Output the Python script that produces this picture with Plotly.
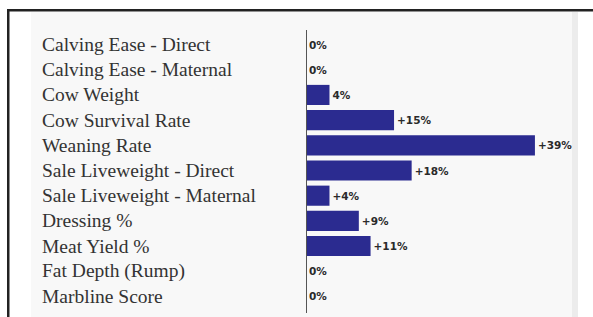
import plotly.graph_objects as go

traits = ["Calving Ease - Direct", "Calving Ease - Maternal", "Cow Weight",
          "Cow Survival Rate", "Weaning Rate", "Sale Liveweight - Direct",
          "Sale Liveweight - Maternal", "Dressing %", "Meat Yield %",
          "Fat Depth (Rump)", "Marbline Score"]
values = [0, 0, 4, 15, 39, 18, 4, 9, 11, 0, 0]
value_labels = ["0%", "0%", "4%", "+15%", "+39%", "+18%", "+4%", "+9%", "+11%", "0%", "0%"]

W, H = 593, 317
ML, MR, MT, MB = 306, 0, 32, 8
plot_w = W - ML - MR
plot_h = H - MT - MB


def px(x):
    return (x - ML) / plot_w


def py(y):
    return 1 - (y - MT) / plot_h


fig = go.Figure()
fig.add_trace(go.Bar(
    x=values, y=traits, orientation="h",
    marker=dict(color="#2b2b90", line=dict(width=0)),
    width=0.8,
    text=value_labels, textposition="outside", cliponaxis=False,
    textfont=dict(family="DejaVu Sans", size=10.5, color="#2a2a2a", weight="bold"),
    hoverinfo="skip",
))

for t in traits:
    fig.add_annotation(x=px(41), xref="paper", y=t, yref="y",
                       text=t, showarrow=False, xanchor="left", yanchor="middle",
                       xshift=-1,
                       font=dict(family="Liberation Serif", size=19.5, color="#333333"))

shapes = [
    dict(type="rect", xref="paper", yref="paper",
         x0=px(31), x1=px(578), y0=py(330), y1=py(12),
         fillcolor="#f8f8f8", line=dict(width=0), layer="below"),
    dict(type="rect", xref="paper", yref="paper",
         x0=px(572), x1=px(578), y0=py(330), y1=py(12),
         fillcolor="#ececec", line=dict(width=0), layer="below"),
    dict(type="rect", xref="paper", yref="paper",
         x0=px(7), x1=px(600), y0=py(11.5), y1=py(9),
         fillcolor="#222222", line=dict(width=0)),
    dict(type="rect", xref="paper", yref="paper",
         x0=px(7), x1=px(9.5), y0=py(330), y1=py(9),
         fillcolor="#222222", line=dict(width=0)),
    dict(type="line", xref="x", yref="paper", x0=0, x1=0,
         y0=py(313), y1=py(30),
         line=dict(color="#555555", width=2)),
]

fig.update_layout(
    width=W, height=H,
    margin=dict(l=ML, r=MR, t=MT, b=MB, pad=0),
    paper_bgcolor="white", plot_bgcolor="rgba(0,0,0,0)",
    showlegend=False,
    shapes=shapes,
    xaxis=dict(range=[0, plot_w / 5.87], visible=False, fixedrange=True),
    yaxis=dict(autorange="reversed", showticklabels=False, showgrid=False,
               zeroline=False, showline=False, ticks="", fixedrange=True),
)

fig.write_html("out.html", config={"displayModeBar": False},
               post_script="document.body.style.margin='0';document.body.style.overflow='hidden';")
